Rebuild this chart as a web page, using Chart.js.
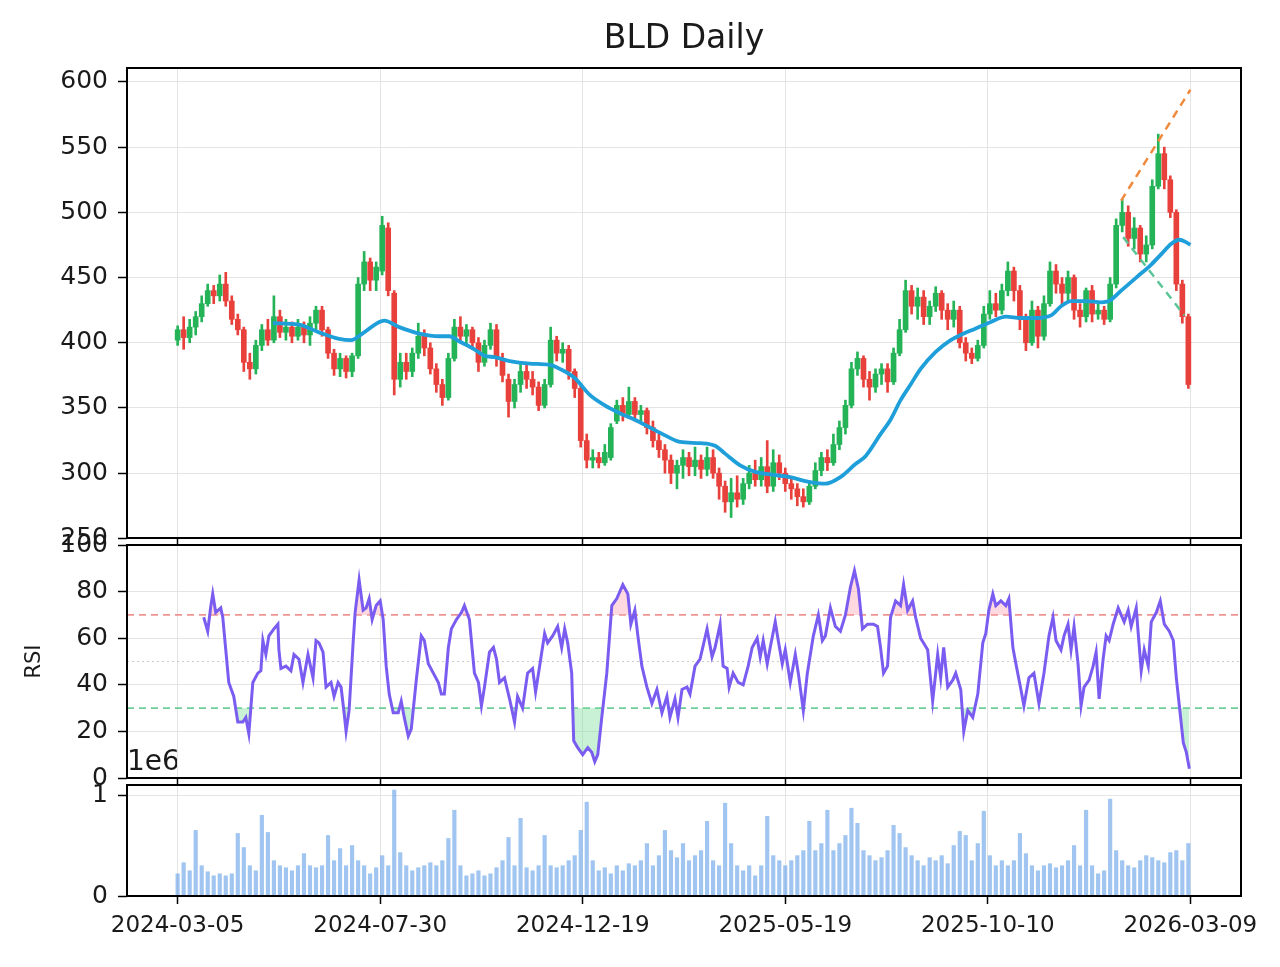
<!DOCTYPE html>
<html><head><meta charset="utf-8">
<script src="https://cdn.jsdelivr.net/npm/chart.js@4.4.1/dist/chart.umd.min.js"></script>
<style>
html,body{margin:0;padding:0;background:#fff;}
#wrap{position:relative;width:1280px;height:967px;}
canvas{position:absolute;left:0;top:0;}
</style></head><body>
<div id="wrap">
<canvas id="cVol" width="1280" height="967"></canvas>
<canvas id="cRsi" width="1280" height="967"></canvas>
<canvas id="cPrice" width="1280" height="967"></canvas>
</div>
<script>
const FONT = "'DejaVu Sans', sans-serif";
const titleText = 'BLD Daily';
const tickIdx = [0, 101, 202, 303, 404, 505];
const tickLabels = ['2024-03-05','2024-07-30','2024-12-19','2025-05-19','2025-10-10','2026-03-09'];
const X_MIN = -25.25, X_MAX = 530.25;
const candleStep = 3;

const opens = [
402,410,404,412,420,430,440,436,445,432,
418,410,385,380,398,410,402,420,408,412,
405,412,406,415,425,410,392,380,388,378,
390,445,462,448,455,488,438,372,385,378,
392,405,396,380,368,358,388,412,405,410,
400,385,398,410,388,372,355,368,378,372,
366,352,368,402,392,395,378,365,325,310,
312,308,312,340,352,345,355,345,348,335,
325,318,310,300,306,312,305,310,303,312,
300,290,278,285,280,292,300,295,305,290,
308,300,292,288,282,278,290,302,312,308,
322,335,352,380,388,372,366,376,380,370,
392,410,440,428,435,420,428,438,425,418,
425,400,392,388,398,422,430,425,440,455,
440,418,400,425,405,430,455,445,438,450,
425,420,440,422,425,418,445,490,500,480,
488,468,475,520,545,525,500,445,420];
const closes = [
410,404,412,420,430,440,436,445,432,418,
410,385,380,398,410,402,420,408,412,405,
412,406,415,425,410,392,380,388,378,390,
445,462,448,458,490,440,372,385,378,392,
405,396,380,368,358,388,412,405,410,400,
385,398,410,388,375,355,368,378,372,366,
352,368,402,392,395,378,365,325,310,312,
308,316,335,352,345,355,345,348,335,325,
318,310,300,306,312,305,310,303,312,300,
290,278,285,280,292,300,295,305,290,308,
300,292,288,282,278,290,302,312,308,322,
335,352,380,388,372,366,376,380,370,392,
410,440,428,435,420,428,438,425,418,425,
400,392,388,398,422,430,425,440,455,440,
418,400,425,405,430,455,445,438,450,425,
420,440,422,425,418,445,490,500,480,488,
468,475,520,545,525,500,445,420,368];
const highs = [
413,420,418,424,436,445,444,452,454,436,
422,412,392,402,414,418,436,425,418,416,
418,416,420,428,428,412,395,392,390,392,
450,470,465,462,497,492,440,392,392,396,
415,410,400,384,372,392,418,420,414,412,
404,402,415,414,392,376,372,385,384,378,
370,372,412,405,400,398,380,368,330,318,
316,322,338,356,358,366,358,352,350,340,
330,322,314,310,318,316,320,314,320,318,
304,294,296,298,296,306,310,312,325,318,
314,304,296,292,288,294,308,316,318,330,
340,356,385,393,390,378,380,384,384,396,
418,448,444,442,440,432,443,440,430,432,
428,404,396,402,428,440,438,445,462,458,
444,422,432,428,436,462,460,450,455,452,
430,442,444,430,428,450,495,510,505,496,
490,482,525,560,550,528,502,448,422];
const lows = [
398,395,400,406,416,428,430,432,428,414,
406,378,372,376,394,398,400,404,402,400,
402,400,398,410,405,388,375,374,373,374,
388,440,440,440,452,436,360,366,372,374,
388,390,376,362,352,356,386,400,398,395,
378,382,395,382,370,343,350,362,365,360,
348,350,366,386,385,372,358,320,304,304,
304,306,310,338,340,342,340,338,330,320,
312,300,292,288,296,298,298,296,298,296,
280,270,266,274,276,288,290,290,285,286,
295,286,280,275,274,276,288,298,302,306,
318,330,350,375,366,356,362,368,362,368,
390,408,422,418,414,414,424,418,410,412,
396,386,384,386,396,418,420,422,436,432,
410,394,398,396,402,428,438,428,432,418,
412,416,416,418,414,416,442,485,474,472,
462,462,472,518,518,496,440,415,365];
const volumes = [
.22,.33,.25,.65,.3,.24,.2,.22,.2,.22,
.62,.48,.3,.25,.8,.63,.35,.3,.28,.25,
.3,.42,.3,.28,.3,.6,.35,.47,.3,.5,
.35,.3,.22,.28,.4,.3,1.05,.43,.3,.25,
.28,.3,.33,.3,.35,.57,.85,.3,.2,.22,
.25,.2,.22,.28,.35,.58,.3,.77,.28,.25,
.3,.6,.3,.28,.3,.35,.4,.65,.93,.35,
.25,.28,.22,.3,.25,.32,.3,.35,.52,.3,
.4,.65,.45,.38,.52,.35,.4,.45,.74,.35,
.3,.92,.52,.3,.25,.3,.2,.3,.79,.4,
.35,.3,.35,.4,.45,.74,.45,.52,.85,.45,
.52,.6,.87,.72,.45,.4,.35,.38,.45,.7,
.62,.48,.4,.35,.3,.38,.35,.4,.32,.5,
.64,.6,.35,.52,.84,.4,.3,.35,.3,.35,
.62,.42,.3,.25,.3,.32,.28,.3,.35,.5,
.3,.85,.3,.22,.25,.96,.45,.35,.3,.28,
.35,.4,.38,.35,.33,.43,.45,.35,.52];

const maIdx = [47.5,60.5,70.5,80.5,86.5,93,103,110.5,120.5,130.5,135.5,140.5,148,153,158,165.5,175.5,185.5,190.5,198,205.5,213,220.5,228,235.5,243,250.5,260.5,268,273,280.5,288,295.5,305.5,313,323,330.5,338,343,350.5,355.5,360.5,365.5,370.5,378,385.5,390.5,398,405.5,413,420.5,428,435.5,440.5,445.5,453,460.5,464.5,470.5,478,485.5,490.5,495.5,499.5,503,505];
const maVals = [415,414,408,403,402,408,417,412,407,405,405,401,395,390,389,386,384,383,380,373,360,352,346,341,335,329,324,323,321,315,306,301,299,297,294,292,297,307,313,330,341,356,368,380,393,402,406,411,416,420,419,419,421,428,432,432,431,432,440,450,460,468,476,479,477,475];

const rsiIdx = [13,15,16.5,17.5,19,21.5,22.5,24,25.5,28,30,32.5,34,35.5,37.5,40,41.5,42.5,44,45.5,48,50,50.5,51.5,54,56.5,58,60.5,62.5,65,67.5,69,70.5,72.5,74,76.5,78,80,81.5,83,84,85.5,87.5,88.5,90.5,92.5,94,95.5,97,99,101,102.5,104,105.5,107.5,110,111.5,113,115,116.5,119,121.5,123,125,127.5,130,131.5,133,135,136.5,139,141.5,143,145.5,148,150,151.5,153,155.5,157.5,159,160.5,163,165.5,168,169.5,172,174.5,177,178.5,180.5,183,184.5,187,189.5,191.5,193,194.5,196.5,197.5,199.5,202,204.5,206.5,208,209.5,211.5,214,216.5,219,222,224.5,226,228,229.5,231.5,234,236.5,239,241.5,244,245.5,248,249.5,251.5,254,255.5,258,260.5,264,266.5,268,270.5,272,274,275,277,279.5,282,284.5,286.5,289,290.5,292,294,295.5,298,299.5,301.5,303,305.5,308,309.5,312,314,315.5,317,319.5,321.5,323,325.5,328,330.5,333,335.5,337.5,339.5,341.5,344,347,349,350.5,352,354,355.5,358,360.5,362,364,366.5,368,370.5,374,376.5,379,380.5,382,384,386.5,388,390.5,392,394,396.5,399,401.5,403,404.5,406.5,408,410.5,413,414.5,416.5,418,420.5,422,424.5,427,429.5,432,434.5,436.5,438,440.5,442,444,445.5,447,449,450.5,452,454.5,456.5,458,459.5,461.5,463,464.5,466.5,469,470.5,472,474,475.5,478,479,480.5,482,484,485.5,488,490,492,494.5,496.5,498,499.5,501.5,503,504.5];
const rsiVals = [69,63,73.5,79,71,73,69,55,41,35,24,24,26,19,41,45,46,59,53,61,64,66,55,47,48,46,53,51,41,53,43,59,58,54,39,41,35,41,39,28,20,29,58,71,85,72,73,77,68,74,76,68,48,36,28,28,33,26,18,21,42,61,59,49,45,41,36,36,56,64,68,71,74,68,45,41,31,39,54,56,51,41,43,34,24,35,30,45,47,37,48,62,58,61,65,56,64,58,45,16,13,10,13,11,7,10,26,45,74,77,83,79,66,72,61,48,39,32,38,28,35,26,34,26,38,39,36,48,51,64,52,56,66,48,47,39,45,41,40,48,56,60,52,59,49,56,67,59,49,55,41,53,45,29,45,53,61,70,59,61,73,65,63,70,82,89,81,64,66,66,65,56,45,48,69,76,74,83,72,76,69,60,55,33,53,43,56,39,42,45,38,20,29,26,36,58,62,72,79,74,76,74,77,56,49,38,31,43,45,32,45,61,69,59,55,61,66,55,65,49,31,39,42,48,54,34,51,61,59,66,73,70,67,72,65,73,62,46,55,48,67,71,76,66,63,59,43,31,15,11,4];

const upperTrendIdx = [470.5, 505], upperTrendVals = [509, 594];
const lowerTrendIdx = [471.5, 502], lowerTrendVals = [481, 421];
const rsiOverbought = 70, rsiOversold = 30, rsiMid = 50;
const priceTicks = [250,300,350,400,450,500,550,600];
const rsiTicks = [0,20,40,60,80,100];
const volTicks = [0,1];

const UP = '#25b358', DOWN = '#e8413c', GRID = '#e4e4e4', TXT = '#1a1a1a';
const dayIdx = opens.map((_, i) => i * candleStep);
const candleColors = opens.map((o, i) => closes[i] >= o ? UP : DOWN);
const pts = (xs, ys) => xs.map((x, i) => ({x, y: ys[i]}));
const hline = v => [{x: X_MIN, y: v}, {x: X_MAX, y: v}];

const frame = {id: 'frame', afterDraw(c) {
  const a = c.chartArea, ctx = c.ctx;
  ctx.save(); ctx.strokeStyle = '#000'; ctx.lineWidth = 2;
  ctx.strokeRect(a.left, a.top, a.right - a.left, a.bottom - a.top);
  ctx.restore();
}};

function xScale(showLabels, h) {
  return {
    type: 'linear', min: X_MIN, max: X_MAX, offset: false,
    afterBuildTicks: s => { s.ticks = tickIdx.map(v => ({value: v})); },
    afterFit: s => { s.height = h; },
    ticks: {display: showLabels, autoSkip: false, maxRotation: 0, padding: 8, color: TXT,
      font: {family: FONT, size: 23},
      callback: v => { const i = tickIdx.indexOf(v); return i >= 0 ? tickLabels[i] : ''; }},
    grid: {offset: false, color: GRID, lineWidth: 1, drawTicks: true, tickLength: 8, tickColor: '#000', tickWidth: 1.5},
    border: {display: false}
  };
}
function yScale(min, max, ticks, title) {
  const s = {
    type: 'linear', min, max,
    afterBuildTicks: sc => { sc.ticks = ticks.map(v => ({value: v})); },
    afterFit: sc => { sc.width = 127; },
    ticks: {color: TXT, font: {family: FONT, size: 25}, padding: 10},
    grid: {color: GRID, lineWidth: 1, tickLength: 9, tickColor: '#000', tickWidth: 1.5},
    border: {display: false}
  };
  if (title) s.title = {display: true, text: title, color: TXT, font: {family: FONT, size: 21}, padding: {top: 22, bottom: 0}};
  return s;
}
const base = {responsive: false, animation: false, devicePixelRatio: 1, events: []};

new Chart(document.getElementById('cPrice'), {
  type: 'bar',
  data: {datasets: [
    {type: 'line', data: pts(maIdx, maVals), borderColor: '#1f9fda', borderWidth: 3.8, pointRadius: 0, tension: 0.4, cubicInterpolationMode: 'monotone', order: 0},
    {type: 'line', data: pts(upperTrendIdx, upperTrendVals), borderColor: '#f08a3c', borderWidth: 2.5, borderDash: [8, 6], pointRadius: 0, order: 1},
    {type: 'line', data: pts(lowerTrendIdx, lowerTrendVals), borderColor: '#5cc497', borderWidth: 2.5, borderDash: [8, 6], pointRadius: 0, order: 1},
    {data: dayIdx.map((x, i) => ({x, y: [opens[i], closes[i]]})), backgroundColor: candleColors, barThickness: 5, grouped: false, order: 2},
    {data: dayIdx.map((x, i) => ({x, y: [lows[i], highs[i]]})), backgroundColor: candleColors, barThickness: 2, grouped: false, order: 3}
  ]},
  options: Object.assign({}, base, {
    layout: {padding: {left: 0, right: 39, top: 0, bottom: 967 - 538 - 8}},
    plugins: {legend: {display: false}, tooltip: {enabled: false},
      title: {display: true, text: titleText, fullSize: false, color: TXT, font: {family: FONT, size: 33, weight: 'normal', lineHeight: 1.2}, padding: {top: 20, bottom: 8.4}}},
    scales: {x: xScale(false, 8), y: yScale(250.3, 610.7, priceTicks)}
  }),
  plugins: [frame]
});

new Chart(document.getElementById('cRsi'), {
  type: 'line',
  data: {datasets: [
    {data: pts(rsiIdx, rsiVals), borderColor: '#7b5cf0', borderWidth: 3, pointRadius: 0, tension: 0,
      fill: {target: {value: rsiOverbought}, above: 'rgba(255,170,185,0.45)', below: 'rgba(0,0,0,0)'}, order: 0},
    {data: pts(rsiIdx, rsiVals), borderWidth: 0, borderColor: 'rgba(0,0,0,0)', pointRadius: 0, tension: 0,
      fill: {target: {value: rsiOversold}, above: 'rgba(0,0,0,0)', below: 'rgba(120,220,150,0.4)'}, order: 1},
    {data: hline(rsiOverbought), borderColor: 'rgba(232,110,110,0.75)', borderWidth: 1.6, borderDash: [7, 5], pointRadius: 0, order: 2},
    {data: hline(rsiOversold), borderColor: 'rgba(60,190,120,0.75)', borderWidth: 1.6, borderDash: [7, 5], pointRadius: 0, order: 2},
    {data: hline(rsiMid), borderColor: 'rgba(170,170,170,0.6)', borderWidth: 1.2, borderDash: [2, 3], pointRadius: 0, order: 2}
  ]},
  options: Object.assign({}, base, {
    layout: {padding: {left: 0, right: 39, top: 545, bottom: 967 - 778 - 8}},
    plugins: {legend: {display: false}, tooltip: {enabled: false}},
    scales: {x: xScale(false, 8), y: yScale(0, 100, rsiTicks, 'RSI')}
  }),
  plugins: [frame]
});

new Chart(document.getElementById('cVol'), {
  type: 'bar',
  data: {datasets: [
    {data: dayIdx.map((x, i) => ({x, y: volumes[i]})), backgroundColor: 'rgba(95,158,230,0.6)', barThickness: 3.5, grouped: false}
  ]},
  options: Object.assign({}, base, {
    layout: {padding: {left: 0, right: 39, top: 746, bottom: 967 - 896 - 50}},
    plugins: {legend: {display: false}, tooltip: {enabled: false},
      title: {display: true, text: '1e6', align: 'start', fullSize: false, color: TXT, font: {family: FONT, size: 28, weight: 'normal', lineHeight: 1.2}, padding: {top: 0, bottom: 5.4}}},
    scales: {x: xScale(true, 50), y: yScale(0, 1.1, volTicks)}
  }),
  plugins: [frame]
});
</script>
</body></html>
